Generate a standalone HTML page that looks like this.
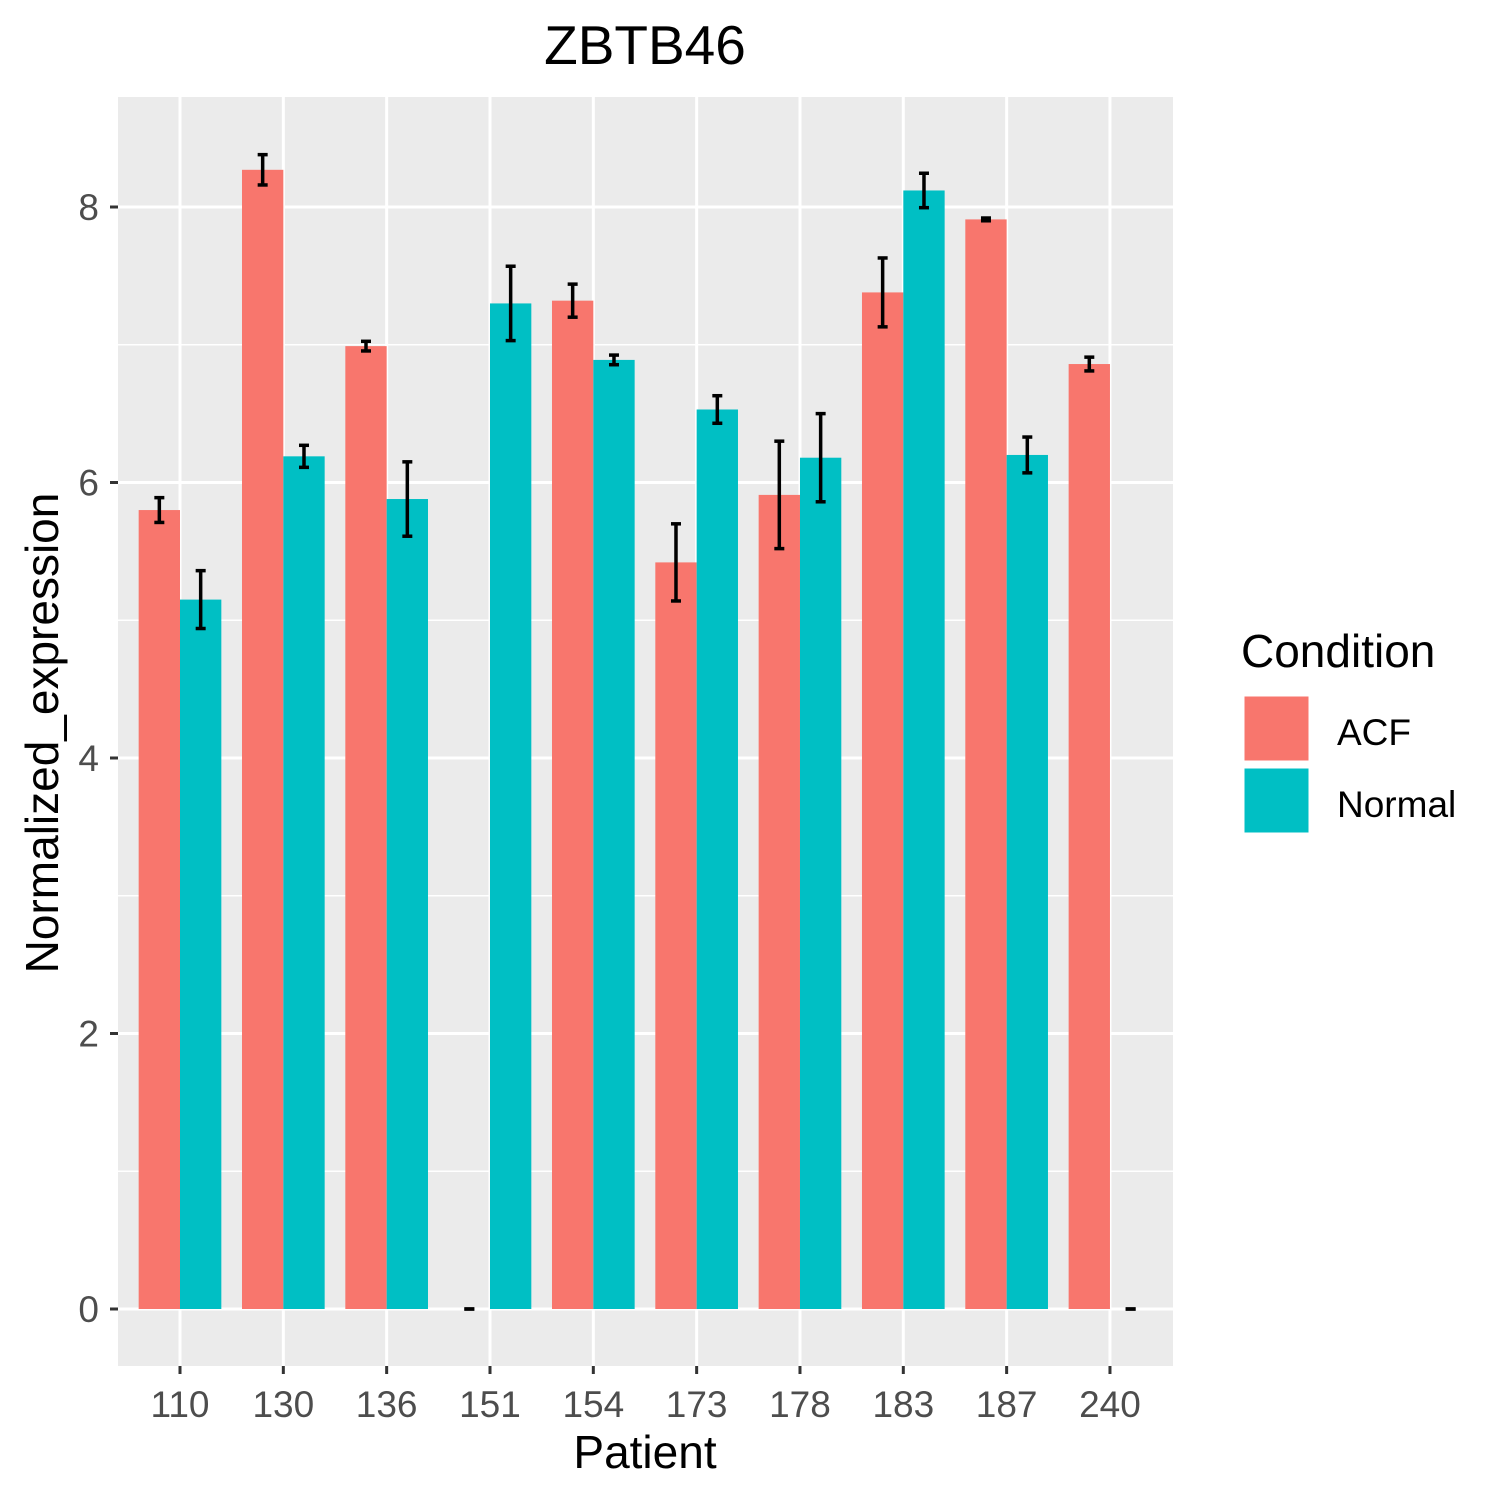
<!DOCTYPE html>
<html><head><meta charset="utf-8"><style>
html,body{margin:0;padding:0;background:#fff}
svg{display:block;font-family:"Liberation Sans",Arial,sans-serif}
</style></head><body>
<svg id="chart" width="1500" height="1500" viewBox="0 0 1500 1500">
<text x="645" y="64" font-size="55" text-anchor="middle" fill="#000">ZBTB46</text>
<rect x="118" y="97" width="1055" height="1269" fill="#ebebeb"/>
<g id="grid"></g><g id="bars"></g><g id="axes"></g>
<text x="645" y="1468" font-size="46" text-anchor="middle" fill="#000">Patient</text>
<text transform="translate(58,733) rotate(-90)" font-size="46" text-anchor="middle" fill="#000">Normalized_expression</text>
<g>
<text x="1241" y="667" font-size="46" fill="#000">Condition</text>
<rect x="1243" y="695" width="67" height="67" fill="#F8766D" stroke="#fff" stroke-width="3"/>
<text x="1337" y="745" font-size="37" fill="#000">ACF</text>
<rect x="1243" y="767" width="67" height="67" fill="#00BFC4" stroke="#fff" stroke-width="3"/>
<text x="1337" y="817" font-size="37" fill="#000">Normal</text>
</g>
</svg>
<script>
const categories=["110","130","136","151","154","173","178","183","187","240"];
const acfValues=[5.80,8.27,6.99,0,7.32,5.42,5.91,7.38,7.91,6.86];
const acfErr=[0.09,0.11,0.035,0,0.12,0.28,0.39,0.25,0.01,0.05];
const normalValues=[5.15,6.19,5.88,7.30,6.89,6.53,6.18,8.12,6.20,0];
const normalErr=[0.21,0.08,0.27,0.27,0.035,0.10,0.32,0.125,0.13,0];
const yTicks=[0,2,4,6,8];
const yMinor=[1,3,5,7];
const NS="http://www.w3.org/2000/svg";
const X0=180,STEP=103.33,Y0=1309,UNIT=137.75;
const xPos=i=>X0+i*STEP;
const yPos=v=>Y0-v*UNIT;
function mk(tag,attrs,parent){const e=document.createElementNS(NS,tag);for(const k in attrs)e.setAttribute(k,attrs[k]);parent.appendChild(e);return e;}
const grid=document.getElementById('grid'),bars=document.getElementById('bars'),axes=document.getElementById('axes');
yMinor.forEach(v=>{const l=mk('line',{x1:118,x2:1173,y1:yPos(v),y2:yPos(v),stroke:'#fff','stroke-width':1.5},grid);

});
yTicks.forEach(v=>{const l=mk('line',{x1:118,x2:1173,y1:yPos(v),y2:yPos(v),stroke:'#fff','stroke-width':3},grid);


const t=mk('line',{x1:110,x2:118,y1:yPos(v),y2:yPos(v),stroke:'#333','stroke-width':3},axes);


const tx=mk('text',{x:99,y:yPos(v)+13,'font-size':37,'text-anchor':'end',fill:'#4d4d4d'},axes);tx.textContent=v;

});
categories.forEach((c,i)=>{const x=xPos(i);
const g=mk('line',{x1:x,x2:x,y1:97,y2:1366,stroke:'#fff','stroke-width':3},grid);


const t=mk('line',{x1:x,x2:x,y1:1366,y2:1374,stroke:'#333','stroke-width':3},axes);


const tx=mk('text',{x:x,y:1417,'font-size':37,'text-anchor':'middle',fill:'#4d4d4d'},axes);tx.textContent=c;

});
const W=STEP*0.4;
function series(vals,errs,color,off,name){vals.forEach((v,i)=>{const cx=xPos(i)+off*W;
const r=mk('rect',{x:cx-W/2,y:yPos(v),width:W,height:yPos(0)-yPos(v),fill:color},bars);


const e=errs[i],g=mk('g',{stroke:'#000','stroke-width':3.5},bars);


mk('line',{x1:cx,x2:cx,y1:yPos(v+e),y2:yPos(v-e)},g);
mk('line',{x1:cx-5,x2:cx+5,y1:yPos(v+e),y2:yPos(v+e)},g);
mk('line',{x1:cx-5,x2:cx+5,y1:yPos(v-e),y2:yPos(v-e)},g);});}
series(acfValues,acfErr,'#F8766D',-0.5,'acf');
series(normalValues,normalErr,'#00BFC4',0.5,'normal');
</script>
</body></html>
